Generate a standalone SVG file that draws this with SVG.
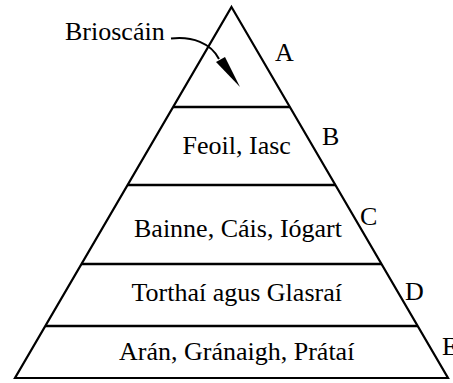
<svg xmlns="http://www.w3.org/2000/svg" width="453" height="383" viewBox="0 0 453 383">
<style>
text{font-family:'Liberation Serif','Times New Roman',Times,'DejaVu Serif',serif;font-size:26px;fill:#000}
.m{text-anchor:middle}
.edge{fill:none;stroke:#000;stroke-width:2.2;stroke-linejoin:miter}
.band{stroke:#000;stroke-width:2.6}
</style>
<rect width="453" height="383" fill="#fff"/>
<g id="pyramid">
<polygon class="edge" points="231.5,7 448,378 15,378"/>
</g>
<g id="level-A">
<text x="275" y="61" font-family="Liberation Serif, serif">A</text>
</g>
<g id="level-B">
<line class="band" x1="173" y1="107" x2="290" y2="107"/>
<text class="m" x="236.7" y="154" font-family="Liberation Serif, serif">Feoil, Iasc</text>
<text x="322" y="145" font-family="Liberation Serif, serif">B</text>
</g>
<g id="level-C">
<line class="band" x1="127.5" y1="185" x2="335.5" y2="185"/>
<text class="m" x="238" y="236.5" font-family="Liberation Serif, serif">Bainne, Cáis, Iógart</text>
<text x="360" y="225" font-family="Liberation Serif, serif">C</text>
</g>
<g id="level-D">
<line class="band" x1="81.5" y1="264" x2="381.5" y2="264"/>
<text class="m" x="236.7" y="300.5" font-family="Liberation Serif, serif">Torthaí agus Glasraí</text>
<text x="405" y="300" font-family="Liberation Serif, serif">D</text>
</g>
<g id="level-E">
<line class="band" x1="45.5" y1="326" x2="417.5" y2="326"/>
<text class="m" x="236.7" y="360" font-family="Liberation Serif, serif">Arán, Gránaigh, Prátaí</text>
<text x="442" y="355" font-family="Liberation Serif, serif">E</text>
</g>
<g id="label-brioscain">
<text x="65" y="40" font-family="Liberation Serif, serif">Brioscáin</text>
</g>
<g id="connectors">
<path d="M171,38.5 C192,36 211,43 219,59" fill="none" stroke="#000" stroke-width="2"/>
<polygon points="216,62 225,57 240,87" fill="#000"/>
</g>
</svg>
